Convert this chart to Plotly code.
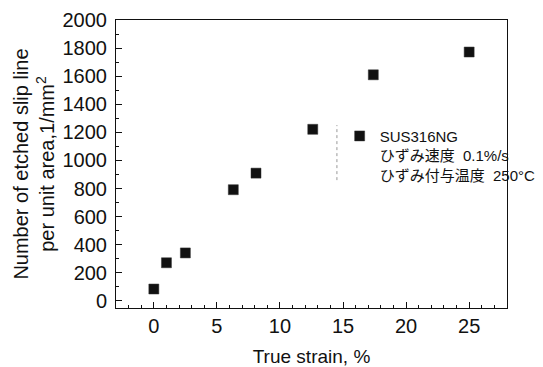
import plotly.graph_objects as go

true_strain = [0, 1.0, 2.5, 6.3, 8.1, 12.6, 17.4, 25.0]
slip_density = [85, 272, 342, 792, 910, 1222, 1610, 1772]

series_name = "SUS316NG<br>ひずみ速度  0.1%/s<br>ひずみ付与温度  250°C"
x_title = "True strain, %"
y_title = "Number of etched slip line<br>per unit area,1/mm<sup>2</sup>"

FONT = "Liberation Sans, Arial, Noto Sans CJK JP, sans-serif"

fig = go.Figure()
fig.add_trace(go.Scatter(
    x=true_strain, y=slip_density, mode="markers", name=series_name,
    marker=dict(symbol="square", size=10, color="#111111",
                line=dict(color="#333333", width=0.5)),
    showlegend=True,
))

# page body has an 8px margin, so the figure is 8px smaller and offset
fig.update_layout(
    width=535, height=359,
    margin=dict(l=108, r=36, t=12, b=59, autoexpand=False),
    paper_bgcolor="white", plot_bgcolor="white",
    font=dict(family=FONT, size=19, color="#111111"),
    showlegend=True,
    legend=dict(x=0.572, y=0.654, xanchor="left", yanchor="top",
                bgcolor="rgba(0,0,0,0)", valign="top",
                font=dict(family=FONT, size=15, color="#111111"),
                itemsizing="trace"),
    xaxis=dict(range=[-3, 28], tickvals=[0, 5, 10, 15, 20, 25],
               ticks="inside", ticklen=6, tickwidth=1, tickcolor="#111111",
               minor=dict(dtick=1, ticks="inside", ticklen=3, tickcolor="#111111"),
               showline=True, linecolor="#111111", linewidth=1, mirror=True,
               showgrid=False, zeroline=False, automargin=False,
               title=dict(text=x_title, font=dict(size=19), standoff=14),
               tickfont=dict(size=20)),
    yaxis=dict(range=[-50, 2000], tickvals=list(range(0, 2001, 200)),
               ticks="inside", ticklen=6, tickwidth=1, tickcolor="#111111",
               minor=dict(dtick=100, tick0=0, ticks="inside", ticklen=3, tickcolor="#111111"),
               showline=True, linecolor="#111111", linewidth=1, mirror=True,
               showgrid=False, zeroline=False, automargin=False,
               ticklabelstandoff=4,
               title=dict(text=y_title, font=dict(size=20), standoff=2),
               tickfont=dict(size=20)),
    shapes=[dict(type="line", xref="paper", yref="paper",
                 x0=0.565, x1=0.565, y0=0.444, y1=0.635,
                 line=dict(color="#999999", width=1, dash="dot"))],
)

fig.write_html("out.html")
